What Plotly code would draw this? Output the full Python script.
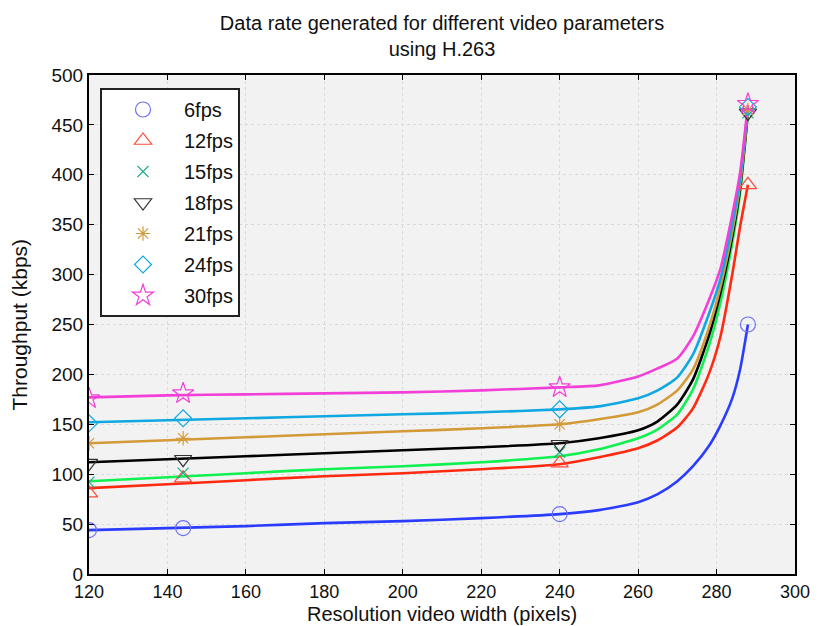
import plotly.graph_objects as go

# Measured points (markers)
res_width = [120, 144, 240, 288]
labels = ["6fps", "12fps", "15fps", "18fps", "21fps", "24fps", "30fps"]
fps6 = [44, 46, 60, 250]
fps12 = [81, 96, 111, 390]
fps15 = [92, 101, 122, 462]
fps18 = [111, 115, 130, 462]
fps21 = [131, 136, 150, 465]
fps24 = [151, 156, 165, 468]
fps30 = [176, 181, 187, 471]

# Fitted curves, values
curve_x = [120, 140, 160, 180, 200, 220, 240, 250, 260, 265, 270, 274, 278, 281, 284, 286, 288]
fit6 = [44, 46, 48, 51, 53, 56, 60, 64, 72, 80, 93, 108, 128, 149, 176, 205, 250]
fit12 = [86, 90, 94, 98, 101, 105, 110, 117, 126, 134, 147, 166, 200, 238, 300, 348, 390]
fit15 = [93, 97, 101, 105, 108, 112, 118, 125, 136, 145, 160, 185, 228, 272, 332, 382, 462]
fit18 = [112, 115, 118, 121, 124, 127, 131, 136, 144, 153, 170, 195, 238, 282, 338, 386, 463]
fit21 = [131, 134, 137, 140, 143, 146, 150, 155, 162, 170, 184, 205, 246, 288, 343, 390, 465]
fit24 = [152, 154, 156, 158, 160, 162, 165, 168, 176, 184, 197, 220, 260, 296, 350, 396, 467]
fit30 = [177, 179, 180, 181, 182, 184, 187, 189, 198, 206, 216, 238, 274, 306, 360, 402, 470]

points = [fps6, fps12, fps15, fps18, fps21, fps24, fps30]
fits = [fit6, fit12, fit15, fit18, fit21, fit24, fit30]

line_colors = ["#2a3cff", "#ff2a10", "#10f050", "#000000", "#d39a38", "#10a8e0", "#f23fd8"]
marker_colors = ["#6f6ff5", "#ff4a3a", "#20b088", "#333333", "#d39a38", "#10a8e0", "#f23fd8"]
symbols = ["circle-open", "triangle-up-open", "x-thin-open", "triangle-down-open",
           "asterisk-open", "diamond-open", "star-open"]
sizes = [15, 15, 11, 15, 12, 13, 16]

FONT = "Liberation Sans, Arial, sans-serif"

fig = go.Figure()
for i in range(7):
    fig.add_trace(go.Scatter(
        x=curve_x, y=fits[i], mode="lines", line=dict(color=line_colors[i], width=2.6, shape="spline", smoothing=0.6),
        showlegend=False, hoverinfo="skip"))
for i in range(7):
    fig.add_trace(go.Scatter(
        x=res_width, y=points[i], mode="markers", name=labels[i], legendgroup=labels[i],
        marker=dict(symbol=symbols[i], size=sizes[i], color=marker_colors[i],
                    line=dict(color=marker_colors[i], width=1.2))))

fig.update_layout(
    width=810, height=618,
    margin=dict(l=81, r=23, t=67, b=52, autoexpand=False),
    paper_bgcolor="white",
    plot_bgcolor="#f2f2f2",
    font=dict(family=FONT, size=19, color="#111111"),
    title=dict(text="Data rate generated for different video parameters<br>using H.263",
               x=(81 + 353) / 810, xanchor="center", y=0.965, yanchor="top",
               font=dict(family=FONT, size=20, color="#111111")),
    legend=dict(x=11 / 706, y=1 - 13 / 499, xanchor="left", yanchor="top",
                bgcolor="white", bordercolor="#222222", borderwidth=2,
                font=dict(family=FONT, size=20, color="#111111"),
                tracegroupgap=2, itemwidth=72, traceorder="grouped"),
    showlegend=True,
    annotations=[
        dict(text="Throughput (kbps)", textangle=-90, xref="paper", yref="paper",
             x=(19 - 89) / 706, y=0.5, xanchor="center", yanchor="middle",
             showarrow=False, font=dict(family=FONT, size=21, color="#111111")),
        dict(text="Resolution video width (pixels)", xref="paper", yref="paper",
             x=0.5, y=(574 - 614) / 499, xanchor="center", yanchor="middle",
             showarrow=False, font=dict(family=FONT, size=20, color="#111111")),
    ],
)
fig.update_xaxes(range=[120, 300], dtick=20, tick0=120, showline=True, linecolor="black", linewidth=2,
                 mirror="ticks", ticks="inside", ticklen=5, tickcolor="black", automargin=False,
                 tickfont=dict(size=18), ticklabelstandoff=0,
                 showgrid=True, gridcolor="#dadada", griddash="dot", gridwidth=1, zeroline=False)
fig.update_yaxes(range=[0, 500], dtick=50, showline=True, linecolor="black", linewidth=2,
                 mirror="ticks", ticks="inside", ticklen=5, tickcolor="black", automargin=False,
                 tickfont=dict(size=19),
                 showgrid=True, gridcolor="#dadada", griddash="dot", gridwidth=1, zeroline=False)

fig.write_html("out.html")
